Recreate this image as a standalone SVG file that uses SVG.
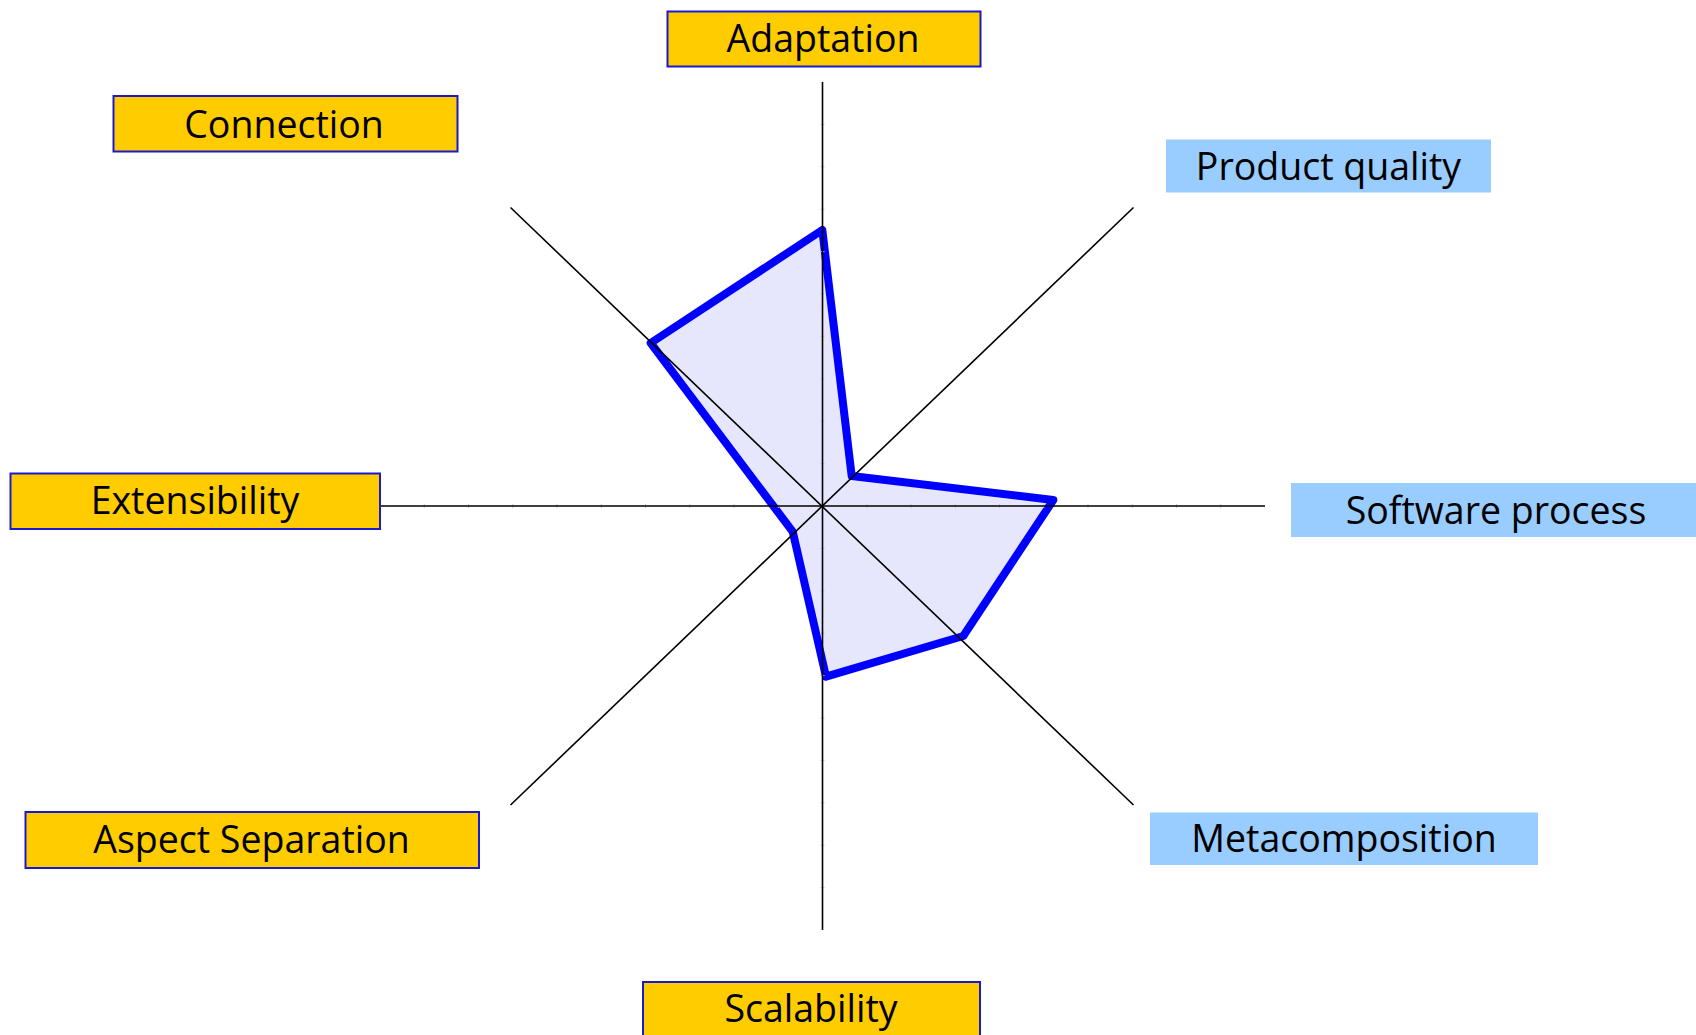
<svg xmlns="http://www.w3.org/2000/svg" width="1696" height="1035" viewBox="0 0 1696 1035">
<style>
.lbl{font-family:"Open Sans","Noto Sans","Liberation Sans",sans-serif;font-size:37.5px;fill:#000;text-anchor:middle}
.yb{fill:#ffcc00;stroke:#1a1acc;stroke-width:2}
.bb{fill:#99ccff;stroke:none}
.axis{stroke:#000;stroke-width:1.6;fill:none}
.tick{stroke:#c8c8c8;stroke-width:1}
.poly{fill:#e6e6fc;stroke:#0000ff;stroke-width:8;stroke-linejoin:round}
</style>
<rect width="1696" height="1035" fill="#fff"/>
<g id="chart">
<polygon class="poly" points="822.3,230 851.7,476 1053.3,500 963.3,636 826,676.7 792.7,531.7 650.7,343"/>
</g>
<g id="connectors">
<g id="ticks">
<path class="tick" d="M820.5,463.6h4M820.5,421.2h4M820.5,378.8h4M820.5,336.4h4M820.5,294h4M820.5,251.6h4M820.5,209.2h4M820.5,166.8h4M820.5,124.4h4M820.5,548.4h4M820.5,590.8h4M820.5,633.2h4M820.5,675.6h4M820.5,718h4M820.5,760.4h4M820.5,802.8h4M820.5,845.2h4M820.5,887.6h4"/>
<path class="tick" d="M866.8,504v4M911,504v4M955.3,504v4M999.5,504v4M1043.8,504v4M1088,504v4M1132.3,504v4M1176.5,504v4M1220.8,504v4M778.3,504v4M734,504v4M689.8,504v4M645.5,504v4M601.3,504v4M557,504v4M512.8,504v4M468.5,504v4M424.3,504v4"/>
</g>
<line class="axis" x1="822.5" y1="82" x2="822.5" y2="930"/>
<line class="axis" x1="380" y1="506" x2="1265" y2="506"/>
<line class="axis" x1="510.5" y1="207.5" x2="1133.5" y2="805"/>
<line class="axis" x1="1133.5" y1="207.5" x2="510.5" y2="805"/>
</g>
<g id="node-adaptation">
<rect class="yb" x="667.5" y="11.5" width="313" height="55"/>
<text class="lbl" x="823" y="51.5">Adaptation</text>
</g>
<g id="node-connection">
<rect class="yb" x="113.5" y="96" width="344" height="55.5"/>
<text class="lbl" x="284" y="137.5">Connection</text>
</g>
<g id="node-product-quality">
<rect class="bb" x="1166" y="139.5" width="325" height="53"/>
<text class="lbl" x="1328.5" y="179.5">Product quality</text>
</g>
<g id="node-extensibility">
<rect class="yb" x="10.5" y="473.5" width="369.5" height="55.5"/>
<text class="lbl" x="195" y="513.5">Extensibility</text>
</g>
<g id="node-software-process">
<rect class="bb" x="1291" y="483" width="420" height="54"/>
<text class="lbl" x="1496" y="523.5">Software process</text>
</g>
<g id="node-aspect-separation">
<rect class="yb" x="25.5" y="812" width="453.5" height="56"/>
<text class="lbl" x="251.5" y="852.5">Aspect Separation</text>
</g>
<g id="node-metacomposition">
<rect class="bb" x="1150" y="812.5" width="388" height="52.5"/>
<text class="lbl" x="1344" y="852">Metacomposition</text>
</g>
<g id="node-scalability">
<rect class="yb" x="643" y="982" width="337" height="56"/>
<text class="lbl" x="811" y="1022">Scalability</text>
</g>
</svg>
